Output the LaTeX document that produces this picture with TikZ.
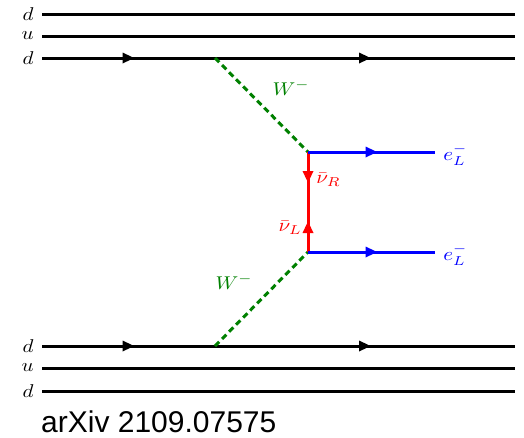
\documentclass[tikz,border=0pt]{standalone}
\usepackage{fontspec}
\setsansfont{Liberation Sans}
\usetikzlibrary{arrows.meta,decorations.markings}
\definecolor{colW}{RGB}{0,128,0}
\definecolor{colE}{RGB}{0,0,255}
\definecolor{colNU}{RGB}{255,0,0}

\begin{document}
\begin{tikzpicture}[x=1pt, y=-1pt,
    lbl/.style={xscale=2.1, yscale=1.85},
    quark/.style={line width=3pt, black},
    fermion/.style={line width=3pt, postaction={decorate},
      decoration={markings, mark=at position 0.5 with {\arrow[xshift=6pt]{Triangle[length=12pt,width=10pt]}}}},
    boson/.style={line width=3pt, colW, dash pattern=on 6pt off 4pt}]
  \useasboundingbox (0,0) rectangle (524,437);
  % Spectator quarks and incoming d lines
  \foreach \n/\y/\q in {ta/14/d, tb/36/u, tc/58/d, bc/346/d, bb/368/u, ba/391/d}{
    \node[lbl, anchor=east, inner sep=0pt] (l\n) at (34,\y) {$\q$};
    \coordinate (i\n) at (42,\y);
    \coordinate (o\n) at (515,\y);
  }
  \draw[quark] (ita) -- (ota);
  \draw[quark] (itb) -- (otb);
  \draw[quark] (iba) -- (oba);
  \draw[quark] (ibb) -- (obb);
  % Vertices
  \coordinate (wt) at (215,58);
  \coordinate (wb) at (215,346);
  \coordinate (vt) at (308,152);
  \coordinate (vm) at (308,202);
  \coordinate (vb) at (308,252);
  \coordinate (et) at (435,152);
  \coordinate (eb) at (435,252);
  % d -> u transitions
  \draw[fermion] (itc) -- (wt);
  \draw[fermion] (wt) -- (otc);
  \draw[fermion] (ibc) -- (wb);
  \draw[fermion] (wb) -- (obc);
  % W bosons
  \draw[boson] (wt) -- (vt);
  \draw[boson] (wb) -- (vb);
  \node[lbl, colW] (lwt) at (291,88) {$W^-$};
  \node[lbl, colW] (lwb) at (234,282) {$W^-$};
  % Neutrino line
  \draw[fermion, colNU] (vt) -- (vm);
  \draw[fermion, colNU] (vb) -- (vm);
  \node[lbl, colNU, anchor=west, inner sep=0pt] (lnr) at (316,180) {$\bar\nu_R$};
  \node[lbl, colNU, anchor=east, inner sep=0pt] (lnl) at (302,228) {$\bar\nu_L$};
  % Outgoing electrons
  \draw[fermion, colE] (vt) -- (et);
  \draw[fermion, colE] (vb) -- (eb);
  \node[lbl, colE, anchor=west, inner sep=0pt] (let) at (443,155) {$e_L^-$};
  \node[lbl, colE, anchor=west, inner sep=0pt] (leb) at (443,255) {$e_L^-$};
  % Reference
  \node[anchor=base west, inner sep=0pt, font=\sffamily\fontsize{30}{34}\selectfont] (ref) at (41,432) {arXiv 2109.07575};
\end{tikzpicture}
\end{document}
